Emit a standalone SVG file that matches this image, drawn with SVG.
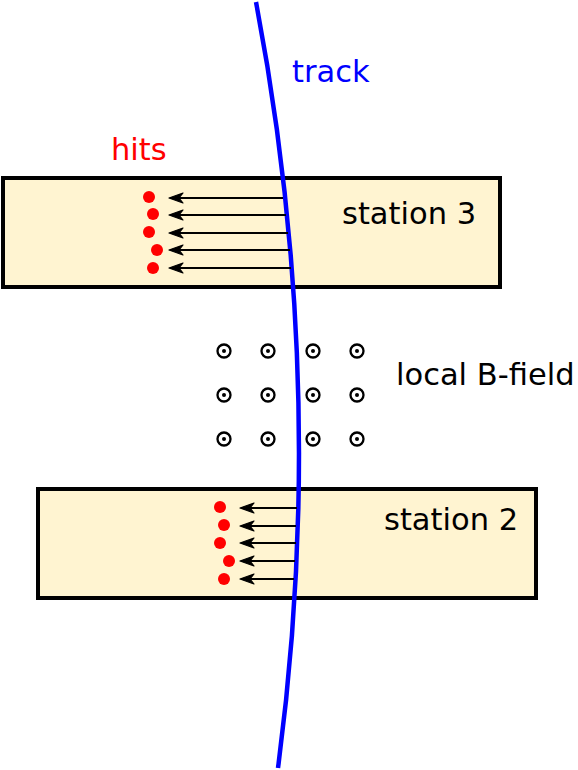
<svg xmlns="http://www.w3.org/2000/svg" width="578" height="770" viewBox="0 0 578 770">
<defs>
<style>
.station{fill:#fff4d1;stroke:#000;stroke-width:4}
.lbl{font-family:"DejaVu Sans",sans-serif;font-size:30.5px}
.arr{stroke:#000;stroke-width:2;fill:none;marker-end:url(#ah)}
.hit{fill:#ff0000}
.b circle.o{fill:none;stroke:#000;stroke-width:2.3}
.b circle.i{fill:#000}
</style>
<marker id="ah" viewBox="-1 -1 16 12" refX="13" refY="5" markerWidth="16" markerHeight="12" markerUnits="userSpaceOnUse" orient="auto">
<path d="M14,5 L0,0 L4,5 L0,10 Z" fill="#000" stroke="#000" stroke-width="1.2" stroke-linejoin="round"/>
</marker>
</defs>
<g id="station3">
<rect class="station" x="3" y="178" width="497" height="109"/>
<text class="lbl" x="342" y="224">station 3</text>
</g>
<g id="station2">
<rect class="station" x="38" y="489" width="498" height="109"/>
<text class="lbl" x="384" y="530">station 2</text>
</g>
<g id="track">
<path d="M256,2 Q329,385 278,768" fill="none" stroke="#0000ff" stroke-width="4.5"/>
<text class="lbl" x="292" y="82" fill="#0000ff">track</text>
</g>
<g id="hits">
<text class="lbl" x="111" y="160" fill="#ff0000">hits</text>
<circle class="hit" cx="149" cy="197" r="6"/>
<circle class="hit" cx="153" cy="214" r="6"/>
<circle class="hit" cx="149" cy="232" r="6"/>
<circle class="hit" cx="157" cy="250" r="6"/>
<circle class="hit" cx="153" cy="268" r="6"/>
<circle class="hit" cx="220" cy="507" r="6"/>
<circle class="hit" cx="224" cy="525" r="6"/>
<circle class="hit" cx="220" cy="543" r="6"/>
<circle class="hit" cx="229" cy="561" r="6"/>
<circle class="hit" cx="224" cy="579" r="6"/>
</g>
<g id="connectors">
<line class="arr" x1="283" y1="198" x2="170" y2="198"/>
<line class="arr" x1="286" y1="215" x2="170" y2="215"/>
<line class="arr" x1="288" y1="233" x2="170" y2="233"/>
<line class="arr" x1="290" y1="250" x2="170" y2="250"/>
<line class="arr" x1="291" y1="268" x2="170" y2="268"/>
<line class="arr" x1="297" y1="508" x2="241" y2="508"/>
<line class="arr" x1="296" y1="526" x2="241" y2="526"/>
<line class="arr" x1="296" y1="543" x2="241" y2="543"/>
<line class="arr" x1="295" y1="561" x2="241" y2="561"/>
<line class="arr" x1="294" y1="579" x2="241" y2="579"/>
</g>
<g id="bfield" class="b">
<text class="lbl" x="396" y="385">local B-field</text>
<g transform="translate(224,351)"><circle class="o" r="6.5"/><circle class="i" r="2"/></g>
<g transform="translate(268,351)"><circle class="o" r="6.5"/><circle class="i" r="2"/></g>
<g transform="translate(313,351)"><circle class="o" r="6.5"/><circle class="i" r="2"/></g>
<g transform="translate(357,351)"><circle class="o" r="6.5"/><circle class="i" r="2"/></g>
<g transform="translate(224,395)"><circle class="o" r="6.5"/><circle class="i" r="2"/></g>
<g transform="translate(268,395)"><circle class="o" r="6.5"/><circle class="i" r="2"/></g>
<g transform="translate(313,395)"><circle class="o" r="6.5"/><circle class="i" r="2"/></g>
<g transform="translate(357,395)"><circle class="o" r="6.5"/><circle class="i" r="2"/></g>
<g transform="translate(224,439)"><circle class="o" r="6.5"/><circle class="i" r="2"/></g>
<g transform="translate(268,439)"><circle class="o" r="6.5"/><circle class="i" r="2"/></g>
<g transform="translate(313,439)"><circle class="o" r="6.5"/><circle class="i" r="2"/></g>
<g transform="translate(357,439)"><circle class="o" r="6.5"/><circle class="i" r="2"/></g>
</g>
</svg>
